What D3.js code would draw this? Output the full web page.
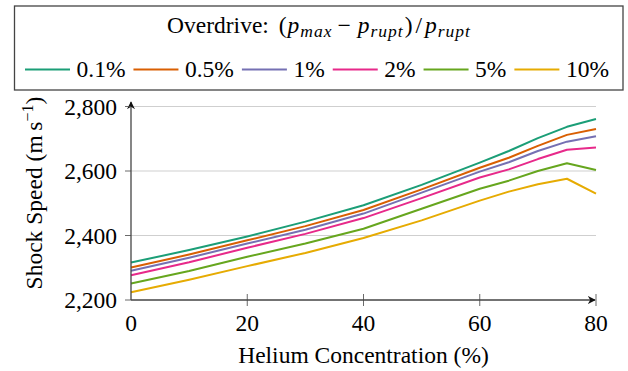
<!DOCTYPE html>
<html>
<head>
<meta charset="utf-8">
<script src="https://cdn.jsdelivr.net/npm/d3@7"></script>
<style>
  body { margin: 0; background: #fff; }
</style>
</head>
<body>
<svg id="chart"></svg>
<script>
// helium concentration (%) on x
const helium = [0, 10, 20, 30, 40, 50, 60, 65, 70, 75, 80];

// shock speed (m/s) per overdrive level
const od01 = [2316, 2355, 2397, 2443, 2494, 2557, 2626, 2662, 2702, 2737, 2761];
const od05 = [2301, 2341, 2385, 2429, 2479, 2543, 2610, 2641, 2678, 2712, 2730];
const od1  = [2291, 2331, 2375, 2418, 2468, 2533, 2598, 2627, 2662, 2691, 2708];
const od2  = [2277, 2317, 2362, 2405, 2454, 2516, 2580, 2605, 2637, 2666, 2673];
const od5  = [2251, 2290, 2334, 2375, 2421, 2483, 2545, 2570, 2600, 2624, 2603];
const od10 = [2224, 2263, 2305, 2346, 2392, 2447, 2508, 2536, 2559, 2576, 2530];

const seriesNames = ['0.1%', '0.5%', '1%', '2%', '5%', '10%'];
const seriesVals = [od01, od05, od1, od2, od5, od10];
const colors = ['#1b9e77', '#d95f02', '#7570b3', '#e7298a', '#66a61e', '#e6ab02'];

const xTicks = [0, 20, 40, 60, 80];
const yTicks = [2200, 2400, 2600, 2800];

const W = 628, H = 371;
const FONT = '"Liberation Serif", "Times New Roman", Times, "DejaVu Serif", serif';
const svg = d3.select('#chart').attr('width', W).attr('height', H)
  .attr('font-family', FONT).style('font-family', FONT);

const x = d3.scaleLinear().domain([0, 80]).range([131, 596]);
const y = d3.scaleLinear().domain([2200, 2800]).range([300, 106.5]);
const axisCol = '#444';
const fs = 23.5;

// horizontal grid
svg.append('g')
  .selectAll('line')
  .data(yTicks.filter(d => d > 2200))
  .join('line')
  .attr('x1', x(0)).attr('x2', x(80))
  .attr('y1', d => y(d)).attr('y2', d => y(d))
  .attr('stroke', '#cfcfcf').attr('stroke-width', 1);

// lines
const line = d3.line()
  .x((d, i) => x(helium[i]))
  .y(d => y(d));

svg.append('g')
  .selectAll('path')
  .data(seriesVals)
  .join('path')
  .attr('fill', 'none')
  .attr('stroke', (d, i) => colors[i])
  .attr('stroke-width', 2)
  .attr('stroke-linejoin', 'round')
  .attr('d', line);

// axes
const defs = svg.append('defs');
defs.append('marker')
  .attr('id', 'arr')
  .attr('viewBox', '0 0 10 10')
  .attr('refX', 9).attr('refY', 5)
  .attr('markerWidth', 8).attr('markerHeight', 8)
  .attr('markerUnits', 'userSpaceOnUse')
  .attr('orient', 'auto')
  .append('path')
  .attr('d', 'M0,0 L10,5 L0,10 L3,5 Z')
  .attr('fill', '#111');

svg.append('line')
  .attr('x1', x(0)).attr('x2', x(80) - 1)
  .attr('y1', y(2200)).attr('y2', y(2200))
  .attr('stroke', axisCol).attr('stroke-width', 1.3)
  .attr('marker-end', 'url(#arr)');

svg.append('line')
  .attr('x1', x(0)).attr('x2', x(0))
  .attr('y1', y(2200)).attr('y2', 102)
  .attr('stroke', axisCol).attr('stroke-width', 1.3)
  .attr('marker-end', 'url(#arr)');

// x ticks
const xg = svg.append('g');
xg.selectAll('line')
  .data(xTicks.filter(d => d > 0))
  .join('line')
  .attr('x1', d => x(d)).attr('x2', d => x(d))
  .attr('y1', y(2200) - 6).attr('y2', y(2200) + 6)
  .attr('stroke', axisCol).attr('stroke-width', 0.8);
xg.selectAll('text')
  .data(xTicks)
  .join('text')
  .attr('x', d => x(d)).attr('y', 331)
  .attr('text-anchor', 'middle')
  .attr('font-size', fs)
  .text(d => d);

// y ticks
const yg = svg.append('g');
yg.selectAll('line')
  .data(yTicks)
  .join('line')
  .attr('x1', x(0) - 6).attr('x2', x(0))
  .attr('y1', d => y(d)).attr('y2', d => y(d))
  .attr('stroke', axisCol).attr('stroke-width', 0.8);
yg.selectAll('text')
  .data(yTicks)
  .join('text')
  .attr('x', 117).attr('y', d => y(d) + 8)
  .attr('text-anchor', 'end')
  .attr('font-size', fs)
  .text(d => d3.format(',')(d));

// axis titles
svg.append('text')
  .attr('x', (x(0) + x(80)) / 2).attr('y', 363)
  .attr('text-anchor', 'middle')
  .attr('font-size', fs)
  .text('Helium Concentration (%)');

const yl = svg.append('text')
  .attr('transform', 'translate(42,193) rotate(-90)')
  .attr('text-anchor', 'middle')
  .attr('font-size', fs);
yl.append('tspan').text('Shock Speed (m\u2009s');
yl.append('tspan').attr('font-size', 16).attr('dy', -9).text('\u22121');
yl.append('tspan').attr('dy', 9).text(')');

// legend
const lg = svg.append('g');
lg.append('rect')
  .attr('x', 14.5).attr('y', 6).attr('width', 608.5).attr('height', 84)
  .attr('fill', '#fff').attr('stroke', '#444').attr('stroke-width', 1.3);

const title = lg.append('text')
  .attr('x', 319).attr('y', 33)
  .attr('text-anchor', 'middle')
  .attr('font-size', fs);
const sub = (txt, dx) => title.append('tspan')
  .attr('font-style', 'italic').attr('font-size', 17.5)
  .attr('letter-spacing', 1).attr('dx', dx || 0).attr('dy', 4).text(txt);
title.append('tspan').text('Overdrive: ');
title.append('tspan').attr('dx', 4).text('(');
title.append('tspan').attr('font-style', 'italic').attr('dx', 1).text('p');
sub('max', 1);
title.append('tspan').attr('dy', -4).attr('dx', 5).text('\u2212');
title.append('tspan').attr('font-style', 'italic').attr('dx', 7).text('p');
sub('rupt', 1);
title.append('tspan').attr('dy', -4).attr('dx', 1).text(')');
title.append('tspan').attr('dx', 3).text('/');
title.append('tspan').attr('font-style', 'italic').attr('dx', 3).text('p');
sub('rupt', 1);

let cx = 25;
seriesNames.forEach((name, i) => {
  lg.append('line')
    .attr('x1', cx).attr('x2', cx + 45)
    .attr('y1', 69.5).attr('y2', 69.5)
    .attr('stroke', colors[i]).attr('stroke-width', 2);
  const t = lg.append('text')
    .attr('x', cx + 51.5).attr('y', 76.5)
    .attr('font-size', fs)
    .text(name);
  cx += 51.5 + t.node().getComputedTextLength() + 8;
});
</script>
</body>
</html>
